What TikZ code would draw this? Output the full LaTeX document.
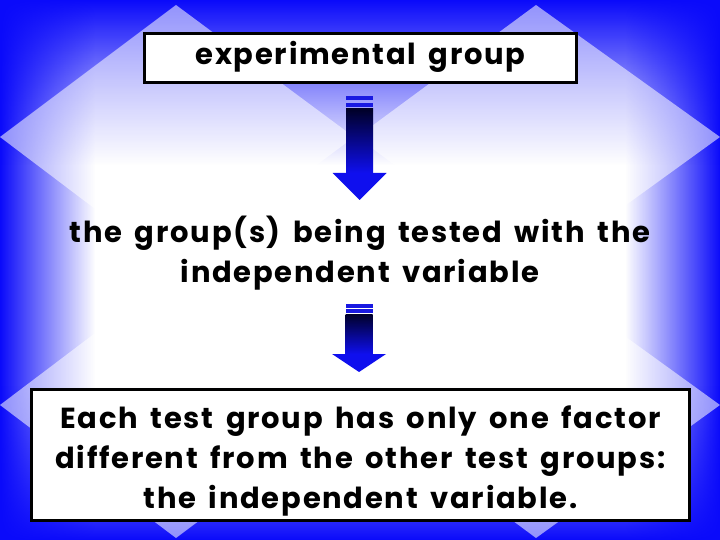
\documentclass[tikz,border=0pt]{standalone}
\usepackage{fontspec}
\setmainfont{Poppins}[LetterSpace=6, WordSpace=1.6]
\usetikzlibrary{fadings}
\definecolor{bgblue}{RGB}{10,10,250}
\definecolor{arrblue}{RGB}{15,15,238}
\definecolor{stripeblue}{RGB}{25,25,225}
\definecolor{navyx}{RGB}{0,0,40}
\tikzfading[name=fadeR, left color=transparent!0, middle color=transparent!70, right color=transparent!100]
\tikzfading[name=fadeL, right color=transparent!0, middle color=transparent!70, left color=transparent!100]
\tikzfading[name=fadeD, top color=transparent!0, middle color=transparent!70, bottom color=transparent!100]
\tikzfading[name=fadeU, bottom color=transparent!0, middle color=transparent!70, top color=transparent!100]
\newcommand\StripedArrow[7]{% #1 x, #2 top, #3 stripe2 top, #4 shaft top, #5 head top, #6 tip, #7 stripe h
  \fill[stripeblue] (#1-13.5,#2) rectangle (#1+13.5,#2+#7);
  \fill[stripeblue] (#1-13.5,#3) rectangle (#1+13.5,#3+#7);
  \shade[top color=navyx, bottom color=arrblue] (#1-13.5,#4) rectangle (#1+13.5,#5);
  \fill[arrblue] (#1-27,#5) -- (#1+27,#5) -- (#1,#6) -- cycle;
}
\tikzset{
  box/.style={draw=black, line width=3pt, fill=white, inner sep=0pt},
  lbl/.style={font=\fontsize{29}{40}\selectfont\bfseries, align=center, inner sep=0pt, text=black},
}
\begin{document}
\begin{tikzpicture}[x=1pt,y=-1pt]
\useasboundingbox (0,0) rectangle (720,540);
% background
\fill[white] (0,0) rectangle (720,540);
\fill[bgblue, path fading=fadeR] (0,0) rectangle (95,540);
\fill[bgblue, path fading=fadeL] (625,0) rectangle (720,540);
\fill[bgblue, path fading=fadeD] (0,0) rectangle (720,165);
\fill[bgblue, path fading=fadeU] (0,385) rectangle (720,540);
% diamonds
\fill[white, opacity=0.55] (176,5) -- (354,137) -- (176,270) -- (0,137) -- cycle;
\fill[white, opacity=0.55] (536,5) -- (720,137) -- (536,270) -- (357,137) -- cycle;
\fill[white, opacity=0.55] (176,272) -- (354,405) -- (176,538) -- (0,405) -- cycle;
\fill[white, opacity=0.55] (536,272) -- (720,405) -- (536,538) -- (357,405) -- cycle;
% top box
\node[box, minimum width=432pt, minimum height=49pt, lbl, text height=20pt, text depth=6pt] (exp) at (360.5,58) {experimental group};
% arrow 1
\StripedArrow{359.5}{96}{103}{109}{173}{200}{4}
% middle text
\node[lbl] (mid) at (360,253) {the group(s) being tested with the\\independent variable};
% arrow 2
\StripedArrow{359}{304}{309}{314}{354}{372}{3.8}
% bottom box
\node[box, minimum width=658pt, minimum height=131pt] (each) at (360.5,455) {};
\node[lbl] (eachtxt) at (360.5,461) {Each test group has only one factor\\different from the other test groups:\\the independent variable.};
\end{tikzpicture}
\end{document}
